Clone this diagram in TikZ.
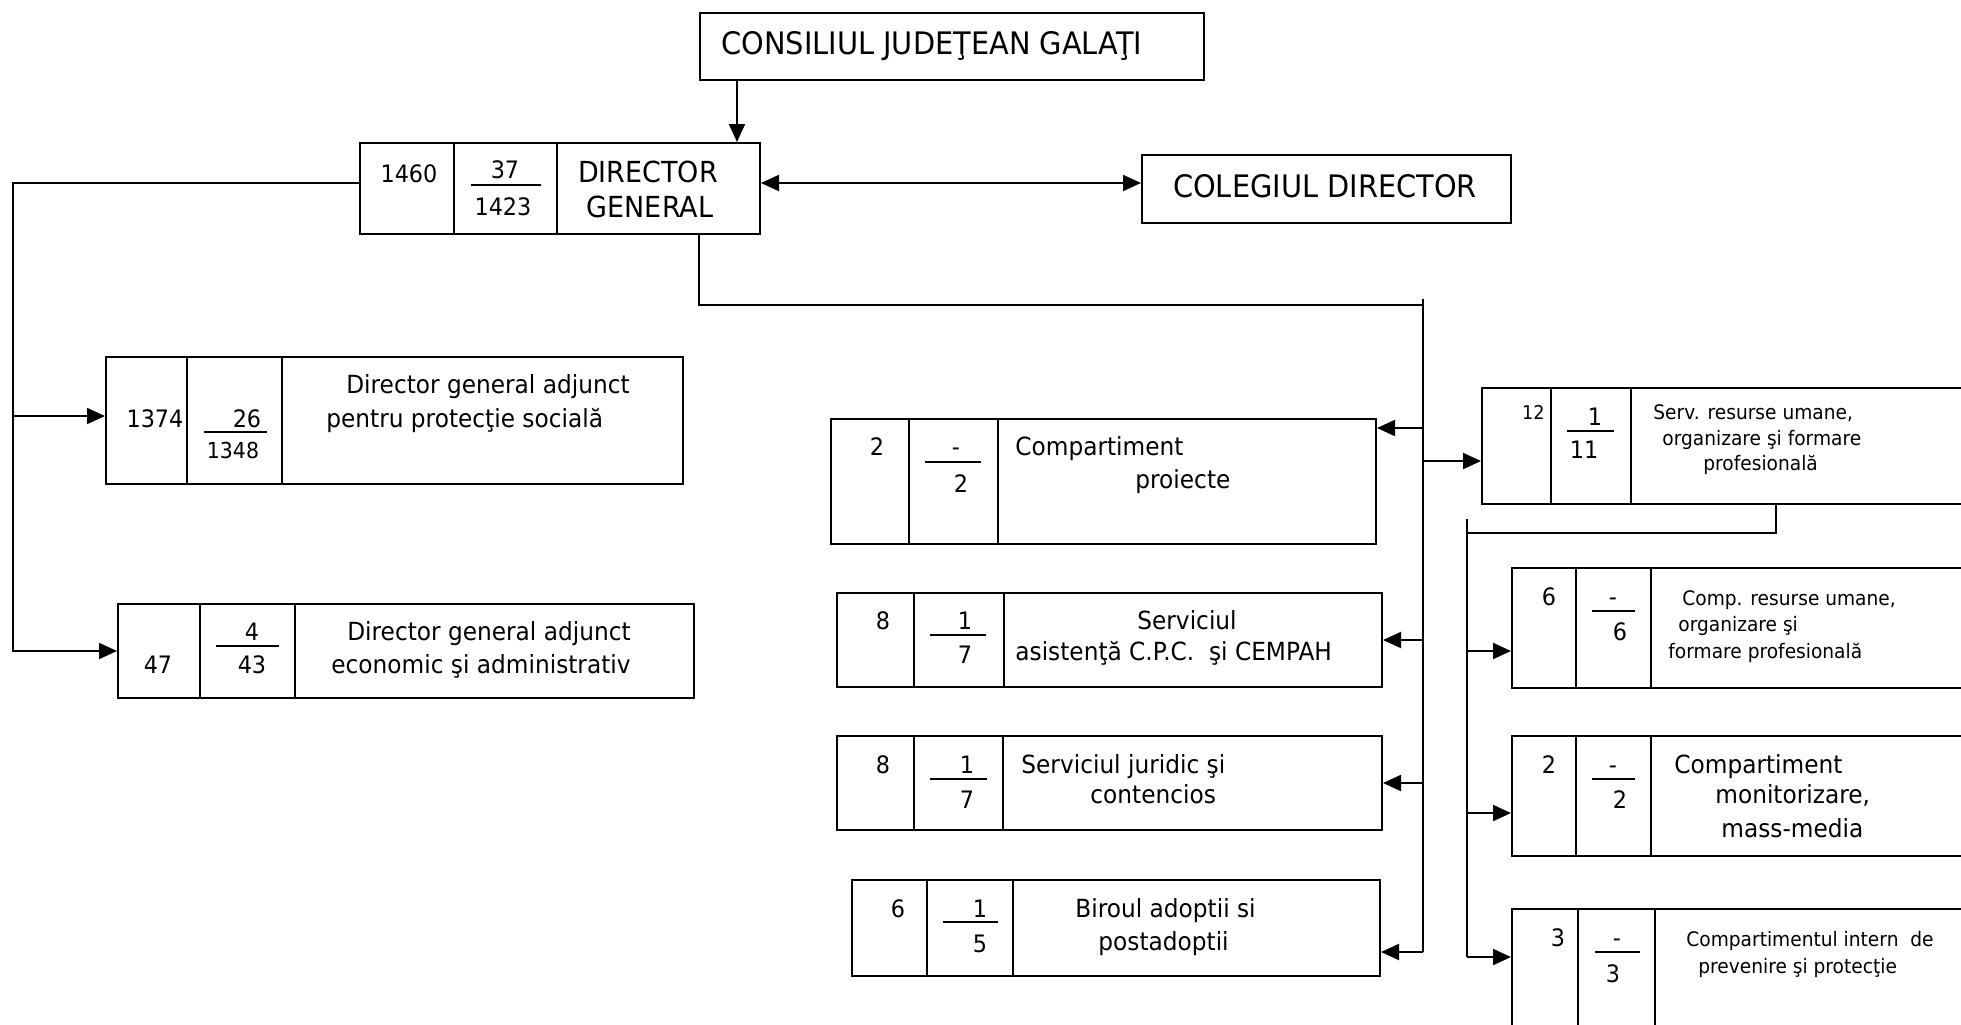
\documentclass[tikz,border=0pt]{standalone}
\usepackage{fontspec}
\setmainfont{DejaVu Sans}[FakeStretch=0.93]
\usetikzlibrary{arrows.meta,calc}

\begin{document}
\begin{tikzpicture}[x=0.5pt,y=-0.5pt]
	\tikzstyle{orgbox} = [draw, rectangle, anchor=north west, inner sep=0pt, line width=1pt]
	\tikzstyle{line} = [line width=1pt]
	\tikzstyle{conn} = [-{Triangle[length=9pt,width=8pt]}, line width=1pt]
	\tikzstyle{conn2} = [{Triangle[length=9pt,width=8pt]}-{Triangle[length=9pt,width=8pt]}, line width=1pt]
	\tikzstyle{lbl} = [anchor=base west, inner sep=0pt]
	\tikzstyle{ctr} = [anchor=base, inner sep=0pt]
	\tikzstyle{rgt} = [anchor=base east, inner sep=0pt]

	\def\u{0.5pt}
	\def\fbig{\fontsize{15.5}{18}\selectfont}
	\def\fdir{\fontsize{14.5}{17}\selectfont}
	\def\fmid{\fontsize{12.5}{15}\selectfont}
	\def\fnum{\fontsize{12}{14}\selectfont}
	\def\fsmall{\fontsize{10}{12}\selectfont}
	\def\ftiny{\fontsize{9.5}{11}\selectfont}

	\useasboundingbox (0,0) rectangle (1961,1024);
	\clip (0,0) rectangle (1961,1024);

	% NODES %
	\node[orgbox, minimum width=504*\u, minimum height=67*\u] (consiliul) at (699,12) {};
	\node[orgbox, minimum width=400*\u, minimum height=91*\u] (dg) at (359,142) {};
	\node[orgbox, minimum width=369*\u, minimum height=68*\u] (colegiul) at (1141,154) {};

	\node[orgbox, minimum width=577*\u, minimum height=127*\u] (dga1) at (105,356) {};
	\node[orgbox, minimum width=576*\u, minimum height=94*\u] (dga2) at (117,603) {};

	\node[orgbox, minimum width=545*\u, minimum height=125*\u] (proiecte) at (830,418) {};
	\node[orgbox, minimum width=545*\u, minimum height=94*\u] (asist) at (836,592) {};
	\node[orgbox, minimum width=545*\u, minimum height=94*\u] (juridic) at (836,735) {};
	\node[orgbox, minimum width=528*\u, minimum height=96*\u] (biroul) at (851,879) {};

	\node[orgbox, minimum width=519*\u, minimum height=116*\u] (serv) at (1481,387) {};
	\node[orgbox, minimum width=489*\u, minimum height=120*\u] (comp) at (1511,567) {};
	\node[orgbox, minimum width=489*\u, minimum height=120*\u] (monit) at (1511,735) {};
	\node[orgbox, minimum width=489*\u, minimum height=152*\u] (intern) at (1511,908) {};

	% cell dividers
	\draw[line] (454,142) -- (454,233) (557,142) -- (557,233);
	\draw[line] (187,356) -- (187,483) (282,356) -- (282,483);
	\draw[line] (200,603) -- (200,697) (295,603) -- (295,697);
	\draw[line] (909,418) -- (909,543) (998,418) -- (998,543);
	\draw[line] (914,592) -- (914,686) (1004,592) -- (1004,686);
	\draw[line] (914,735) -- (914,829) (1003,735) -- (1003,829);
	\draw[line] (927,879) -- (927,975) (1013,879) -- (1013,975);
	\draw[line] (1551,387) -- (1551,503) (1631,387) -- (1631,503);
	\draw[line] (1576,567) -- (1576,687) (1651,567) -- (1651,687);
	\draw[line] (1576,735) -- (1576,855) (1651,735) -- (1651,855);
	\draw[line] (1578,908) -- (1578,1060) (1655,908) -- (1655,1060);

	% fraction bars
	\draw[line] (471,185) -- (541,185);
	\draw[line] (204,432) -- (267,432);
	\draw[line] (216,646) -- (279,646);
	\draw[line] (925,462) -- (981,462);
	\draw[line] (930,635) -- (986,635);
	\draw[line] (930,779) -- (987,779);
	\draw[line] (943,922) -- (998,922);
	\draw[line] (1567,431) -- (1614,431);
	\draw[line] (1592,611) -- (1635,611);
	\draw[line] (1592,779) -- (1635,779);
	\draw[line] (1595,952) -- (1640,952);

	% TEXTS %
	\node[lbl, font=\fbig] (consiliul-t) at (721,54) {CONSILIUL JUDEŢEAN GALAŢI};
	\node[ctr, font=\fbig] (colegiul-t) at (1325,197) {COLEGIUL DIRECTOR};

	\node[ctr, font=\fnum] (dg-n1) at (409,182) {1460};
	\node[ctr, font=\fnum] (dg-n2) at (505,178) {37};
	\node[ctr, font=\fnum] (dg-n3) at (503,215) {1423};
	\node[ctr, font=\fdir] (dg-t1) at (648,182) {DIRECTOR};
	\node[ctr, font=\fdir] (dg-t2) at (650,217) {GENERAL};

	\node[ctr, font=\fnum] (dga1-n1) at (155,427) {1374};
	\node[ctr, font=\fnum] (dga1-n2) at (247,427) {26};
	\node[ctr, font=\fsmall\fontsize{11}{13}\selectfont] (dga1-n3) at (233,458) {1348};
	\node[ctr, font=\fmid] (dga1-t1) at (488,393) {Director general adjunct};
	\node[lbl, font=\fmid] (dga1-t2) at (326,427) {pentru protecţie socială};

	\node[ctr, font=\fnum] (dga2-n1) at (158,673) {47};
	\node[ctr, font=\fnum] (dga2-n2) at (252,640) {4};
	\node[ctr, font=\fnum] (dga2-n3) at (252,673) {43};
	\node[ctr, font=\fmid] (dga2-t1) at (489,640) {Director general adjunct};
	\node[ctr, font=\fmid] (dga2-t2) at (481,673) {economic şi administrativ};

	\node[ctr, font=\fnum] (proiecte-n1) at (877,455) {2};
	\node[ctr, font=\fnum] (proiecte-n2) at (956,455) {-};
	\node[ctr, font=\fnum] (proiecte-n3) at (961,492) {2};
	\node[lbl, font=\fmid] (proiecte-t1) at (1015,455) {Compartiment};
	\node[lbl, font=\fmid] (proiecte-t2) at (1135,488) {proiecte};

	\node[ctr, font=\fnum] (asist-n1) at (883,629) {8};
	\node[ctr, font=\fnum] (asist-n2) at (965,629) {1};
	\node[ctr, font=\fnum] (asist-n3) at (965,663) {7};
	\node[ctr, font=\fmid] (asist-t1) at (1187,629) {Serviciul};
	\node[lbl, font=\fmid] (asist-t2) at (1015,660) {asistenţă C.P.C.\ \ şi CEMPAH};

	\node[ctr, font=\fnum] (juridic-n1) at (883,773) {8};
	\node[ctr, font=\fnum] (juridic-n2) at (967,773) {1};
	\node[ctr, font=\fnum] (juridic-n3) at (967,808) {7};
	\node[lbl, font=\fmid] (juridic-t1) at (1021,773) {Serviciul juridic şi};
	\node[lbl, font=\fmid] (juridic-t2) at (1090,803) {contencios};

	\node[ctr, font=\fnum] (biroul-n1) at (898,917) {6};
	\node[ctr, font=\fnum] (biroul-n2) at (980,917) {1};
	\node[ctr, font=\fnum] (biroul-n3) at (980,952) {5};
	\node[lbl, font=\fmid] (biroul-t1) at (1075,917) {Biroul adoptii si};
	\node[lbl, font=\fmid] (biroul-t2) at (1098,950) {postadoptii};

	\node[rgt, font=\ftiny] (serv-n1) at (1545,419) {12};
	\node[ctr, font=\fnum] (serv-n2) at (1595,425) {1};
	\node[ctr, font=\fnum] (serv-n3) at (1584,458) {11};
	\node[lbl, font=\fsmall] (serv-t1) at (1653,419) {Serv. resurse umane,};
	\node[lbl, font=\fsmall] (serv-t2) at (1662,445) {organizare şi formare};
	\node[lbl, font=\fsmall] (serv-t3) at (1703,470) {profesională};

	\node[ctr, font=\fnum] (comp-n1) at (1549,605) {6};
	\node[ctr, font=\fnum] (comp-n2) at (1613,605) {-};
	\node[ctr, font=\fnum] (comp-n3) at (1620,640) {6};
	\node[lbl, font=\fsmall] (comp-t1) at (1682,605) {Comp. resurse umane,};
	\node[lbl, font=\fsmall] (comp-t2) at (1678,631) {organizare şi};
	\node[lbl, font=\fsmall] (comp-t3) at (1668,658) {formare profesională};

	\node[ctr, font=\fnum] (monit-n1) at (1549,773) {2};
	\node[ctr, font=\fnum] (monit-n2) at (1613,773) {-};
	\node[ctr, font=\fnum] (monit-n3) at (1620,808) {2};
	\node[lbl, font=\fmid] (monit-t1) at (1674,773) {Compartiment};
	\node[lbl, font=\fmid] (monit-t2) at (1715,803) {monitorizare,};
	\node[lbl, font=\fmid] (monit-t3) at (1721,837) {mass-media};

	\node[ctr, font=\fnum] (intern-n1) at (1558,946) {3};
	\node[ctr, font=\fnum] (intern-n2) at (1617,946) {-};
	\node[ctr, font=\fnum] (intern-n3) at (1613,982) {3};
	\node[lbl, font=\fsmall] (intern-t1) at (1686,946) {Compartimentul intern\ \ de};
	\node[lbl, font=\fsmall] (intern-t2) at (1698,973) {prevenire şi protecţie};

	% BUS POINTS %
	\coordinate (lbus) at (13,0);
	\coordinate (mtop) at (1423,299);
	\coordinate (mbot) at (1423,952);
	\coordinate (stop) at (1467,519);
	\coordinate (sbot) at (1467,957);
	\coordinate (cjin) at ($(dg.north east)+(-24,0)$);
	\coordinate (dgout) at ($(dg.south west)+(340,0)$);
	\coordinate (dgleft) at ($(dg.north west)+(0,41)$);
	\coordinate (dgright) at ($(dg.north east)+(0,41)$);
	\coordinate (servout) at ($(serv.south west)+(295,0)$);
	\coordinate (tdga1) at ($(dga1.north west)+(0,60)$);
	\coordinate (tproiecte) at ($(proiecte.north east)+(0,10)$);
	\coordinate (tserv) at ($(serv.north west)+(0,74)$);
	\coordinate (tcomp) at ($(comp.north west)+(0,84)$);
	\coordinate (tmonit) at ($(monit.north west)+(0,78)$);

	% EDGES %
	\draw[conn] (consiliul.south -| cjin) -- (cjin);
	\draw[conn2] (dgright) -- (colegiul.west |- dgright);
	%left
	\draw[conn] (dgleft) -- (dgleft -| lbus) |- (dga2.west);
	\draw[conn] (lbus |- tdga1) -- (tdga1);
	%main bus
	\draw[line] (dgout) -- ++(0,70) -| (mtop);
	\draw[line] (mtop) -- (mbot);
	\draw[conn] (mtop |- tproiecte) -- (tproiecte);
	\draw[conn] (mtop |- asist.east) -- (asist.east);
	\draw[conn] (mtop |- juridic.east) -- (juridic.east);
	\draw[conn] (mbot) -- (mbot -| biroul.east);
	\draw[conn] (mtop |- tserv) -- (tserv);
	%second bus
	\draw[line] (servout) -- ++(0,28) -| (stop);
	\draw[line] (stop) -- (sbot);
	\draw[conn] (stop |- tcomp) -- (tcomp);
	\draw[conn] (stop |- tmonit) -- (tmonit);
	\draw[conn] (sbot) -- (sbot -| intern.west);
\end{tikzpicture}
\end{document}
